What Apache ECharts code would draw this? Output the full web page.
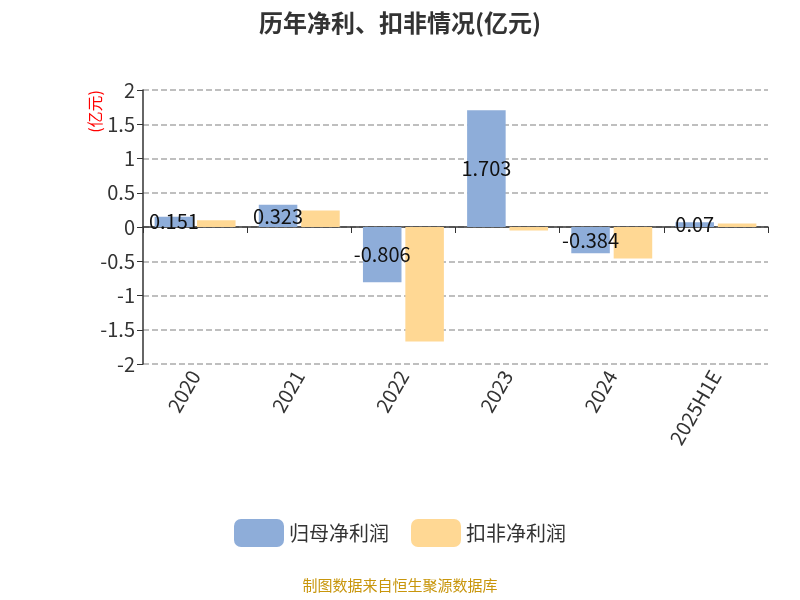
<!DOCTYPE html>
<html><head><meta charset="utf-8">
<script src="https://cdn.jsdelivr.net/npm/echarts@6/dist/echarts.min.js"></script>
<style>html,body{margin:0;padding:0;background:#fff}#chart{width:800px;height:600px}</style>
</head><body><div id="chart"></div>
<script>
const years = ['2020', '2021', '2022', '2023', '2024', '2025H1E'];
const netProfit = [0.151, 0.323, -0.806, 1.703, -0.384, 0.07];
const deductedProfit = [0.1, 0.24, -1.67, -0.05, -0.46, 0.05];

const chart = echarts.init(document.getElementById('chart'));
const font = 'Noto Sans CJK SC, Noto Sans, sans-serif';
chart.setOption({
  animation: false,
  textStyle: { fontFamily: font },
  title: {
    text: '历年净利、扣非情况(亿元)', left: 'center', top: 6,
    textStyle: { fontSize: 24, fontWeight: 'bold', color: '#333', fontFamily: font }
  },
  graphic: [{
    type: 'text', left: 'center', top: 578,
    style: { text: '制图数据来自恒生聚源数据库', fill: '#c8960c', fontSize: 15, fontFamily: font }
  }],
  legend: {
    bottom: 48, itemWidth: 50, itemHeight: 28, itemGap: 22,
    textStyle: { fontSize: 20, color: '#333' },
    data: ['归母净利润', '扣非净利润']
  },
  grid: { left: 143, right: 32, top: 90, bottom: 236 },
  xAxis: {
    type: 'category', data: years,
    axisLine: { lineStyle: { color: '#333', width: 1.5 } },
    axisTick: { show: true, length: 6, lineStyle: { color: '#333' } },
    axisLabel: { rotate: 60, fontSize: 20, color: '#333', margin: 8, interval: 0 }
  },
  yAxis: {
    type: 'value', min: -2, max: 2, interval: 0.5,
    name: '(亿元)', nameLocation: 'end', nameRotate: 90, nameGap: 0,
    nameTextStyle: { color: 'red', fontSize: 16, align: 'right', verticalAlign: 'bottom', padding: [0, 0, 40, 0] },
    axisLine: { show: true, lineStyle: { color: '#333', width: 1.5 } },
    axisTick: { show: true, length: 6 },
    axisLabel: { fontSize: 20, color: '#333' },
    splitLine: { lineStyle: { type: 'dashed', color: '#aaa', width: 1.5 } }
  },
  series: [
    {
      name: '归母净利润', type: 'bar', data: netProfit, barWidth: '37%', barGap: '10%',
      itemStyle: { color: '#8eadd9' },
      label: { show: true, position: 'inside', fontSize: 20, color: '#111' }
    },
    {
      name: '扣非净利润', type: 'bar', data: deductedProfit, barWidth: '37%',
      itemStyle: { color: '#ffd894' }
    }
  ]
});
</script></body></html>
